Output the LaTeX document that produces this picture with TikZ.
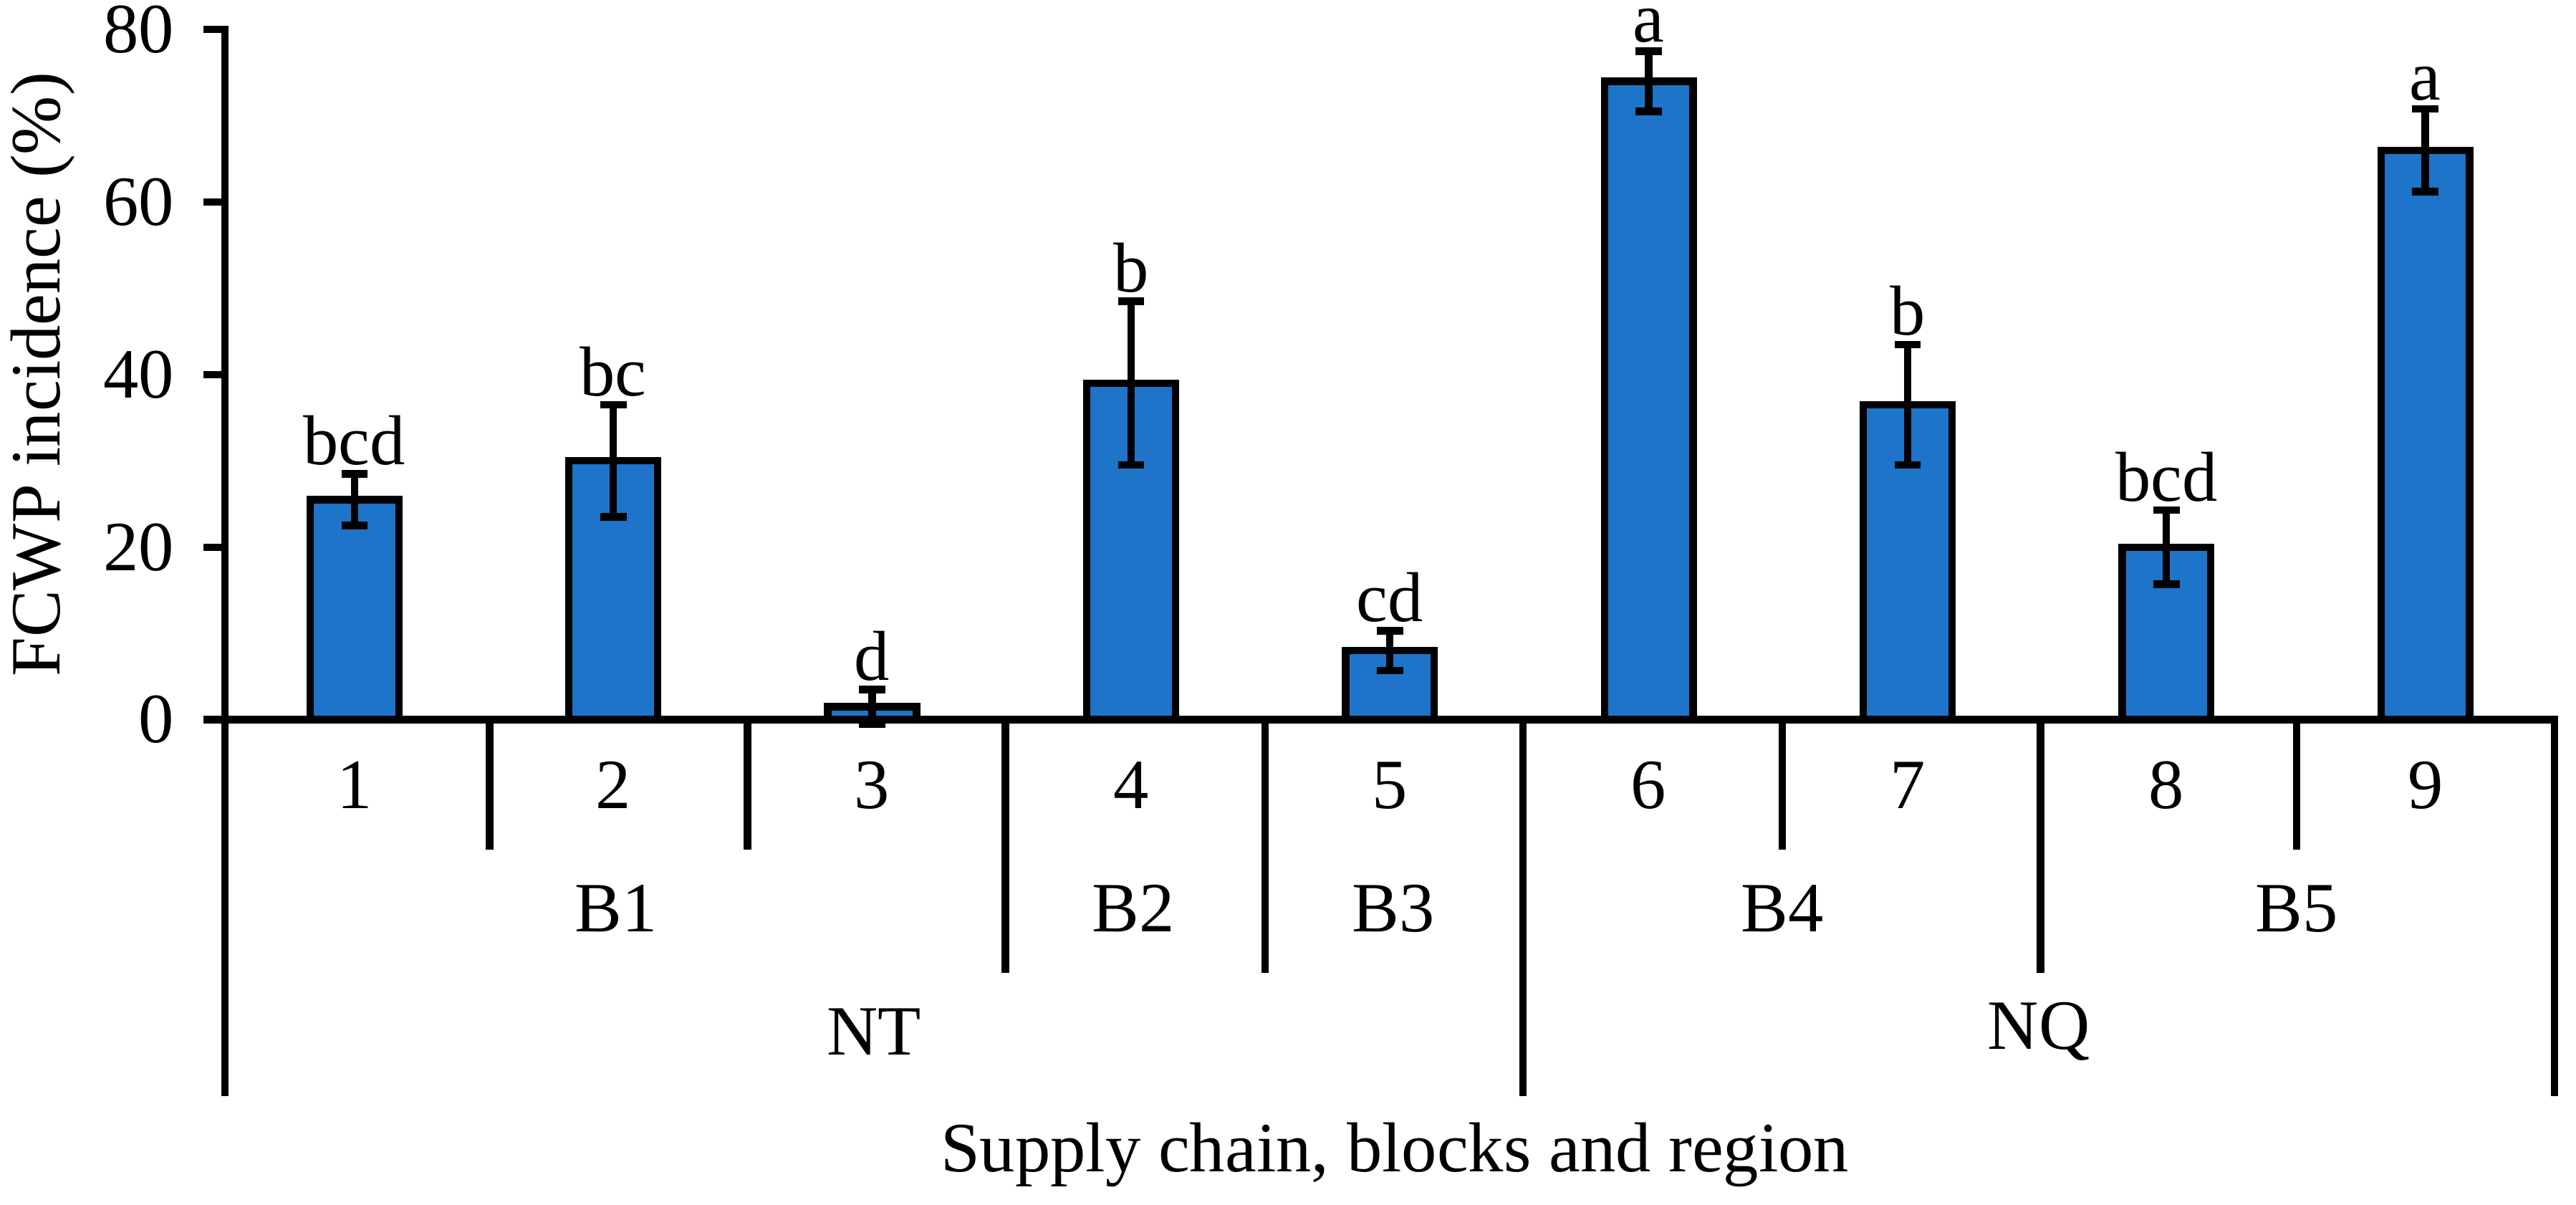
\documentclass[tikz,border=0pt]{standalone}
\usepackage{fontspec}
\setmainfont{Liberation Serif}
\definecolor{barblue}{RGB}{30,116,200}
\tikzset{
  ax/.style={line width=4.5pt, line cap=rect},
  bar/.style={draw=black, fill=barblue, line width=4.5pt},
  err/.style={line width=4.5pt},
  lbl/.style={font=\fontsize{43}{48}\selectfont, inner sep=0pt},
}
\begin{document}
\begin{tikzpicture}[x=1pt,y=-1pt]
\useasboundingbox (0,0) rectangle (1568,733);
% y axis
\draw[ax] (137,18) -- (137,438);
\foreach \v in {0,20,40,60,80}{
  \pgfmathsetmacro{\yy}{438-\v*5.25}
  \draw[ax] (126,\yy) -- (137,\yy);
  \node[lbl, anchor=east] (yt\v) at (106,\yy) {\v};
}
\node[lbl, rotate=90] (ylab) at (26,228) {FCWP incidence (\%)};
% bars
\foreach \i/\val/\e/\t in {1/25.5/3/bcd,2/30/6.5/bc,3/1.5/2/d,4/39/9.5/b,5/8/2.3/cd,6/74/3.5/a,7/36.5/7/b,8/20/4.3/bcd,9/66/4.8/a}{
  \pgfmathsetmacro{\xc}{137+(\i-0.5)*157.56}
  \pgfmathsetmacro{\yt}{438-\val*5.25}
  \pgfmathsetmacro{\yh}{438-(\val+\e)*5.25}
  \pgfmathsetmacro{\yl}{438-(\val-\e)*5.25}
  \draw[bar] (\xc-27,438) rectangle (\xc+27,\yt);
  \draw[err] (\xc,\yh) -- (\xc,\yl);
  \draw[err] (\xc-8,\yh) -- (\xc+8,\yh);
  \draw[err] (\xc-8,\yl) -- (\xc+8,\yl);
  \node[lbl, anchor=south] (sig\i) at (\xc,\yh-5) {\t};
  \node[lbl] (cat\i) at (\xc,478) {\i};
}
% x axis
\draw[ax] (137,438) -- (1555,438);
\foreach \x/\b in {137/665,298/515,455/515,612/590,770/590,927/665,1085/515,1242/590,1398/515,1555/665}{
  \draw[ax] (\x,438) -- (\x,\b);
}
\node[lbl] (b1) at (375,553) {B1};
\node[lbl] (b2) at (690,553) {B2};
\node[lbl] (b3) at (848,553) {B3};
\node[lbl] (b4) at (1085,553) {B4};
\node[lbl] (b5) at (1398,553) {B5};
\node[lbl] (nt) at (532,628) {NT};
\node[lbl] (nq) at (1241,628) {NQ};
\node[lbl] (xlab) at (849,703) {Supply chain, blocks and region};
\end{tikzpicture}
\end{document}
